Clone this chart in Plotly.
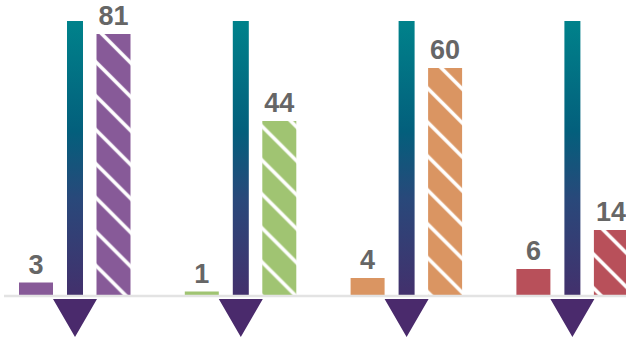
import plotly.graph_objects as go

# ---------------- data ----------------
groups = ["Group 1", "Group 2", "Group 3", "Group 4"]
before_values = [3, 1, 4, 6]
after_values = [81, 44, 60, 14]
bar_colors = ["#875a98", "#a0c472", "#da9562", "#b8505a"]

# ---------------- styling / layout parameters ----------------
W, H = 626, 342
BASE_FROM_TOP = 296          # px from top of the page to the baseline
BELOW = H - BASE_FROM_TOP    # px below the baseline
PERIOD = 165.8               # px between group centres
FIRST_CENTRE = 75            # px of first group centre
small_axis_top = 65.8        # value at the top edge for the solid bars
after_axis_tops = [91.5, 74.4, 77.9, 62.8]   # per-group scales of hatched bars

BAR_W = 34 / PERIOD
SMALL_OFF = -39 / PERIOD
AFTER_OFF = 38.5 / PERIOD
SHAFT_HALF = 8 / PERIOD
HEAD_HALF = 22 / PERIOD
ARROW_TOP = BASE_FROM_TOP - 21    # decoration axis is in px above baseline
HEAD_TOP, HEAD_BOTTOM = -3, -41

label_font = dict(family="Liberation Sans, Arial, sans-serif", size=27,
                  color="#666666", weight="bold")

xpos = list(range(len(groups)))

fig = go.Figure()

# arrows (decoration) on their own axis
shaft_x, shaft_y, head_x, head_y = [], [], [], []
for c in xpos:
    shaft_x += [c - SHAFT_HALF, c + SHAFT_HALF, c + SHAFT_HALF, c - SHAFT_HALF, c - SHAFT_HALF, None]
    shaft_y += [0, 0, ARROW_TOP, ARROW_TOP, 0, None]
    head_x += [c - HEAD_HALF, c + HEAD_HALF, c, c - HEAD_HALF, None]
    head_y += [HEAD_TOP, HEAD_TOP, HEAD_BOTTOM, HEAD_TOP, None]

fig.add_trace(go.Scatter(
    x=shaft_x, y=shaft_y, mode="none", fill="toself",
    fillgradient=dict(type="vertical", start=0, stop=ARROW_TOP,
                      colorscale=[[0, "#43306c"], [0.35, "#29487a"],
                                  [0.6, "#035f7c"], [1, "#00828b"]]),
    xaxis="x", yaxis="y6", hoverinfo="skip", showlegend=False))
fig.add_trace(go.Scatter(
    x=head_x, y=head_y, mode="none", fill="toself", fillcolor="#4a2a6c",
    xaxis="x", yaxis="y6", hoverinfo="skip", showlegend=False))

# solid "before" bars
fig.add_trace(go.Bar(
    x=xpos, y=before_values, width=BAR_W, offset=SMALL_OFF - BAR_W / 2,
    marker=dict(color=bar_colors, line=dict(width=0)),
    text=[str(v) for v in before_values], textposition="outside",
    textfont=label_font, constraintext="none", cliponaxis=False,
    xaxis="x", yaxis="y", showlegend=False))

# hatched "after" bars, each group on its own scale
for i, (c, v, col) in enumerate(zip(xpos, after_values, bar_colors)):
    fig.add_trace(go.Bar(
        x=[c], y=[v], width=BAR_W, offset=AFTER_OFF - BAR_W / 2,
        marker=dict(color=col, line=dict(width=0),
                    pattern=dict(shape="\\", fgcolor="white", fgopacity=1,
                                 size=24, solidity=0.15)),
        text=[str(v)], textposition="outside",
        textfont=label_font, constraintext="none", cliponaxis=False,
        xaxis="x", yaxis="y" + str(i + 2), showlegend=False))

# baseline
fig.add_shape(type="line", xref="paper", yref="y6", x0=4 / W, x1=1, y0=0, y1=0,
              line=dict(color="#e3e3e3", width=2.5), layer="above")


def yr(top):
    return [-top * BELOW / BASE_FROM_TOP, top]


layout = dict(
    width=W, height=H, margin=dict(l=0, r=0, t=0, b=0),
    paper_bgcolor="white", plot_bgcolor="white",
    barmode="overlay",
    xaxis=dict(range=[-FIRST_CENTRE / PERIOD, (W - FIRST_CENTRE) / PERIOD],
               visible=False, fixedrange=True),
    yaxis=dict(range=yr(small_axis_top), visible=False),
    yaxis6=dict(range=[-BELOW, BASE_FROM_TOP], visible=False, overlaying="y"),
)
for i, t in enumerate(after_axis_tops):
    layout["yaxis" + str(i + 2)] = dict(range=yr(t), visible=False, overlaying="y")
fig.update_layout(**layout)

fig.write_html("out.html")
